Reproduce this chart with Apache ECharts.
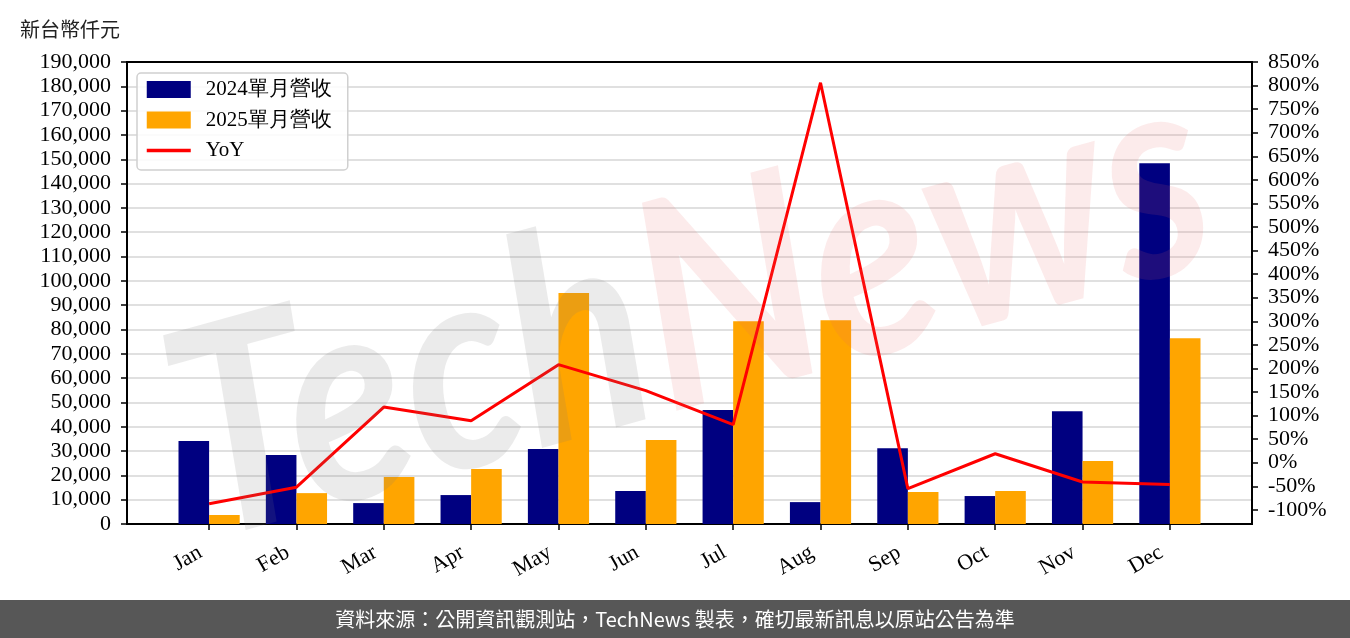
<!DOCTYPE html>
<html>
<head>
<meta charset="utf-8">
<script src="https://cdn.jsdelivr.net/npm/echarts@6/dist/echarts.min.js"></script>
<style>
html,body{margin:0;padding:0;background:#fff;}
#chart{width:1350px;height:638px;}
</style>
</head>
<body>
<div id="chart"></div>
<script>
const months = ['Jan','Feb','Mar','Apr','May','Jun','Jul','Aug','Sep','Oct','Nov','Dec'];
const rev2024 = [34100, 28400, 8600, 11900, 30800, 13600, 46900, 9000, 31200, 11500, 46400, 148400];
const rev2025 = [3700, 12700, 19300, 22600, 95000, 34500, 83400, 83800, 13200, 13600, 25900, 76400];
const yoy = [-87, -52, 118, 89, 208, 153, 81, 806, -55, 19, -41, -46];
const rightTicks = [-100,-50,0,50,100,150,200,250,300,350,400,450,500,550,600,650,700,750,800,850];
const seriesNames = ['2024單月營收','2025單月營收','YoY'];
const unitLabel = '新台幣仟元';
const footerText = '資料來源：公開資訊觀測站，TechNews 製表，確切最新訊息以原站公告為準';

const idx = months.map((m, i) => i);
const serif = 'Liberation Serif';

const chart = echarts.init(document.getElementById('chart'), null, {renderer: 'canvas'});
chart.setOption({
  animation: false,
  backgroundColor: '#fff',
  title: {
    text: unitLabel, left: 15, top: 14,
    textStyle: {fontFamily: 'Noto Sans CJK TC', fontSize: 20, fontWeight: 'normal', color: '#222'}
  },
  grid: {left: 127, right: 98, top: 62, bottom: 114, show: true, borderColor: '#000', borderWidth: 2, backgroundColor: 'transparent'},
  legend: {
    orient: 'vertical', left: 137, top: 73,
    backgroundColor: 'rgba(255,255,255,0.85)', borderColor: '#d0d0d0', borderWidth: 1.5, borderRadius: 4,
    padding: [6, 16, 9, 8],
    itemWidth: 44, itemHeight: 17, itemGap: 9.5,
    textStyle: {fontFamily: serif, fontSize: 21, color: '#000', padding: [0, 0, 0, 10]},
    data: [
      {name: seriesNames[0], icon: 'rect'},
      {name: seriesNames[1], icon: 'rect'},
      {name: seriesNames[2], itemStyle: {opacity: 0}, lineStyle: {width: 3.5, color: '#ff0000'}}
    ]
  },
  xAxis: {
    type: 'value', min: -0.94, max: 11.94,
    axisLine: {show: true, onZero: false, lineStyle: {color: '#000', width: 2}},
    axisTick: {show: true, length: 6, lineStyle: {color: '#000', width: 1.5}, customValues: idx},
    axisLabel: {
      customValues: idx, rotate: 30, margin: 22, padding: [0, 10, 0, 0],
      fontFamily: serif, fontSize: 22, color: '#000',
      formatter: v => months[Math.round(v)]
    },
    splitLine: {show: false}
  },
  yAxis: [
    {
      type: 'value', min: 0, max: 190000, interval: 10000,
      axisLine: {show: true, onZero: false, lineStyle: {color: '#000', width: 2}},
      axisTick: {show: true, length: 6, lineStyle: {color: '#000', width: 1.5}},
      axisLabel: {margin: 16, fontFamily: serif, fontSize: 22, color: '#000',
        formatter: v => v.toLocaleString('en-US')},
      splitLine: {show: true, showMaxLine: false, showMinLine: false, lineStyle: {color: '#d6d6d6', width: 1.6}}
    },
    {
      type: 'value', min: -130, max: 850, position: 'right',
      axisLine: {show: true, onZero: false, lineStyle: {color: '#000', width: 2}},
      axisTick: {show: true, length: 6, lineStyle: {color: '#000', width: 1.5}, customValues: rightTicks},
      axisLabel: {customValues: rightTicks, margin: 16, fontFamily: serif, fontSize: 22, color: '#000',
        formatter: v => v + '%'},
      splitLine: {show: false}
    }
  ],
  series: [
    {name: seriesNames[0], type: 'bar', yAxisIndex: 0, barWidth: 30.6, barGap: '0%',
     itemStyle: {color: '#000080'}, data: rev2024.map((v, i) => [i, v])},
    {name: seriesNames[1], type: 'bar', yAxisIndex: 0, barWidth: 30.6, barGap: '0%',
     itemStyle: {color: '#FFA500'}, data: rev2025.map((v, i) => [i, v])},
    {name: seriesNames[2], type: 'line', yAxisIndex: 1, symbol: 'none', z: 5,
     lineStyle: {color: '#ff0000', width: 3}, itemStyle: {color: '#ff0000'},
     data: yoy.map((v, i) => [i, v])}
  ],
  graphic: [
    {
      type: 'text', z: 100, silent: true,
      x: 690, y: 310, rotation: 0.27, scaleX: 0.86,
      style: {
        text: '{a|Tech}{b|News}',
        align: 'center', verticalAlign: 'middle',
        rich: {
          a: {fill: 'rgba(120,120,120,0.15)', fontFamily: 'Lato', fontStyle: 'italic', fontWeight: 700, fontSize: 290},
          b: {fill: 'rgba(230,100,100,0.13)', fontFamily: 'Lato', fontStyle: 'italic', fontWeight: 700, fontSize: 290}
        }
      }
    },
    {
      type: 'rect', left: 0, bottom: 0, z: 50, silent: true,
      shape: {width: 1350, height: 38},
      style: {fill: '#575757'}
    },
    {
      type: 'text', left: 'center', bottom: 9, z: 51, silent: true,
      style: {text: footerText, fill: '#fff', fontFamily: 'Noto Sans CJK TC', fontSize: 20}
    }
  ]
});
</script>
</body>
</html>
